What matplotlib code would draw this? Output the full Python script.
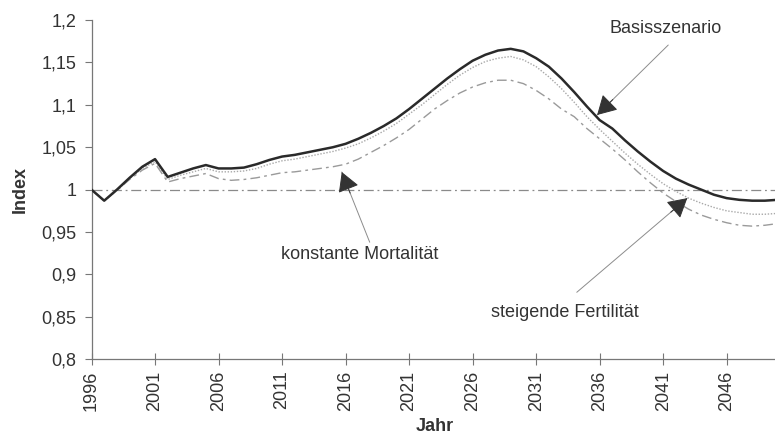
import numpy as np
import matplotlib.pyplot as plt

plt.rcParams['font.family'] = ['Liberation Sans', 'DejaVu Sans']

years = list(range(1996, 2051))

basis = [1.000, 0.987, 1.000, 1.014, 1.027, 1.036, 1.015, 1.020, 1.025, 1.029,
         1.025, 1.025, 1.026, 1.030, 1.035, 1.039, 1.041, 1.044, 1.047, 1.050,
         1.054, 1.060, 1.067, 1.075, 1.084, 1.095, 1.107, 1.119, 1.131, 1.142,
         1.152, 1.159, 1.164, 1.166, 1.163, 1.155, 1.145, 1.131, 1.115, 1.098,
         1.082, 1.072, 1.058, 1.045, 1.033, 1.022, 1.013, 1.006, 1.000, 0.994,
         0.990, 0.988, 0.987, 0.987, 0.988]

mortalitaet = [1.000, 0.987, 0.999, 1.013, 1.025, 1.033, 1.012, 1.017, 1.021, 1.025,
               1.021, 1.021, 1.022, 1.025, 1.030, 1.034, 1.036, 1.039, 1.042, 1.045,
               1.049, 1.054, 1.061, 1.069, 1.078, 1.089, 1.100, 1.112, 1.124, 1.135,
               1.144, 1.151, 1.155, 1.157, 1.153, 1.145, 1.133, 1.119, 1.103, 1.086,
               1.071, 1.057, 1.043, 1.030, 1.018, 1.007, 0.998, 0.990, 0.984, 0.979,
               0.975, 0.973, 0.971, 0.971, 0.972]

fertilitaet = [1.000, 0.987, 0.999, 1.012, 1.023, 1.031, 1.009, 1.013, 1.016, 1.019,
               1.013, 1.011, 1.012, 1.014, 1.017, 1.020, 1.021, 1.023, 1.025, 1.027,
               1.030, 1.036, 1.044, 1.052, 1.061, 1.071, 1.083, 1.095, 1.105, 1.114,
               1.121, 1.126, 1.129, 1.129, 1.125, 1.117, 1.107, 1.095, 1.086, 1.072,
               1.060, 1.048, 1.035, 1.021, 1.008, 0.996, 0.986, 0.977, 0.970, 0.965,
               0.961, 0.958, 0.957, 0.958, 0.960]

xt = list(range(1996, 2050, 5))
yt = [0.8, 0.85, 0.9, 0.95, 1.0, 1.05, 1.1, 1.15, 1.2]
ytl = ['0,8', '0,85', '0,9', '0,95', '1', '1,05', '1,1', '1,15', '1,2']

txt = '#333333'
axc = '#777777'
fs = 13

fig = plt.figure(figsize=(7.75, 4.36), dpi=100)
ax = fig.add_axes([91.5/775, 76.7/436, 686/775, 339.3/436])

ax.axhline(1.0, color='#8a8a8a', lw=0.9, ls=(0, (8, 3, 1.5, 3)), zorder=1)
ax.plot(years, fertilitaet, color='#9a9a9a', lw=1.0, ls=(0, (7, 3, 2, 3)), zorder=2)
ax.plot(years, mortalitaet, color='#a8a8a8', lw=1.0, ls=(0, (1, 1.2)), zorder=3)
ax.plot(years, basis, color='#2a2a2a', lw=1.8, zorder=4)

ax.set_xlim(1996, 2050)
ax.set_ylim(0.8, 1.2)
ax.set_xticks(xt)
ax.set_xticklabels([str(x) for x in xt], rotation=90, fontsize=fs, color=txt)
ax.set_yticks(yt)
ax.set_yticklabels(ytl, fontsize=fs, color=txt)
ax.tick_params(axis='y', direction='out', length=5, width=0.8, color=axc, pad=6)
ax.tick_params(axis='x', direction='inout', length=8, width=0.8, color=axc, pad=4)

for s in ['top', 'right']:
  ax.spines[s].set_visible(False)
for s in ['left', 'bottom']:
  ax.spines[s].set_color(axc)
  ax.spines[s].set_linewidth(0.9)

ax.set_ylabel('Index', fontsize=fs, fontweight='bold', color=txt, labelpad=9)
ax.set_xlabel('Jahr', fontsize=fs, fontweight='bold', color=txt, labelpad=5)


def pointer(label, text_xy, start, tip, frac):
  ax.text(text_xy[0], text_xy[1], label, fontsize=fs, color=txt,
          ha='center', va='center')
  ax.annotate('', xy=tip, xytext=start,
              arrowprops=dict(arrowstyle='-', color='#8c8c8c', lw=0.7,
                              shrinkA=0, shrinkB=0))
  hx = tip[0] + frac*(start[0] - tip[0])
  hy = tip[1] + frac*(start[1] - tip[1])
  ax.annotate('', xy=tip, xytext=(hx, hy),
              arrowprops=dict(arrowstyle='-|>,head_length=0.6,head_width=0.34',
                              color='#333333', lw=0.7, mutation_scale=20,
                              shrinkA=0, shrinkB=0))


pointer('Basisszenario', (2041.2, 1.1905), (2041.4, 1.1705), (2035.8, 1.088), 0.22)
pointer('konstante Mortalität', (2017.1, 0.924), (2017.9, 0.938), (2015.7, 1.0208), 0.3)
pointer('steigende Fertilität', (2033.3, 0.855), (2034.2, 0.879), (2042.9, 0.990), 0.15)

plt.savefig('out.png', dpi=100)
